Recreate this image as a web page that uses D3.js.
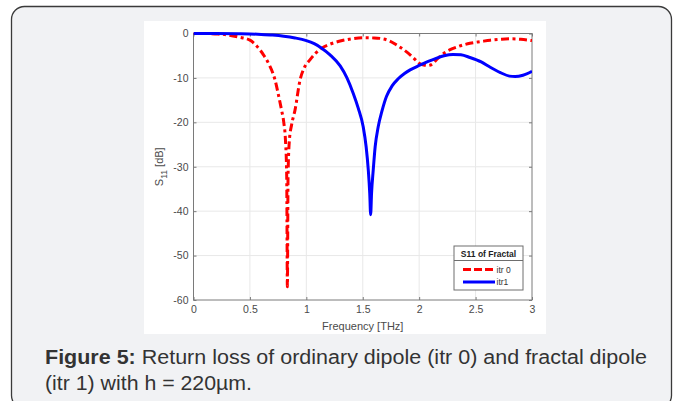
<!DOCTYPE html>
<html>
<head>
<meta charset="utf-8">
<script src="https://cdn.jsdelivr.net/npm/d3@7"></script>
<style>
  html, body { margin: 0; padding: 0; background: #fff; }
  svg { display: block; font-family: "Liberation Sans", Arial, sans-serif; }
</style>
</head>
<body>
<div id="chart"></div>
<script>
/** Data (frequency in THz, S11 in dB) */
const freqItr0 = [0, 0.1, 0.2, 0.3, 0.4, 0.5, 0.56, 0.62, 0.67, 0.723, 0.75, 0.78, 0.80, 0.815, 0.826, 0.832, 0.838, 0.85, 0.87, 0.90, 0.944, 0.98, 1.03, 1.08, 1.136, 1.21, 1.3, 1.4, 1.5, 1.6, 1.68, 1.74, 1.8, 1.86, 1.92, 1.97, 2.0, 2.04, 2.08, 2.12, 2.15, 2.2, 2.27, 2.35, 2.45, 2.55, 2.63, 2.72, 2.8, 2.9, 3.0];
const s11Itr0 = [0, 0, -0.1, -0.3, -0.8, -1.5, -2.8, -4.8, -7.0, -10.5, -13.5, -17.2, -20, -24, -32, -57, -32, -24, -20.5, -17.2, -10.5, -7.8, -6.0, -4.5, -3.3, -2.4, -1.7, -1.2, -0.95, -1.0, -1.2, -1.7, -2.6, -3.6, -4.8, -6.0, -6.7, -7.1, -7.2, -6.8, -6.0, -4.8, -3.7, -2.9, -2.2, -1.8, -1.5, -1.3, -1.2, -1.3, -1.6];

const freqItr1 = [0, 0.2, 0.4, 0.5, 0.6, 0.7, 0.8, 0.9, 1.0, 1.07, 1.136, 1.21, 1.3, 1.36, 1.416, 1.46, 1.504, 1.53, 1.549, 1.562, 1.57, 1.578, 1.593, 1.61, 1.637, 1.67, 1.71, 1.76, 1.814, 1.87, 1.92, 2.0, 2.08, 2.15, 2.22, 2.3, 2.37, 2.45, 2.55, 2.63, 2.72, 2.8, 2.85, 2.92, 3.0];
const s11Itr1 = [0, 0, -0.05, -0.1, -0.2, -0.35, -0.6, -1.0, -1.6, -2.3, -3.3, -4.8, -7.3, -10, -13.5, -16.8, -21, -25.5, -30.7, -36, -40.8, -36, -30.7, -25.5, -21, -17.5, -14.2, -11.8, -10.2, -9.0, -8.2, -7.2, -6.3, -5.6, -5.0, -4.7, -4.8, -5.4, -6.4, -7.6, -8.8, -9.6, -9.7, -9.4, -8.5];

const xTicks = [0, 0.5, 1, 1.5, 2, 2.5, 3];
const yTicks = [0, -10, -20, -30, -40, -50, -60];
const seriesNames = ["itr 0", "itr1"];
const seriesColors = ["#ff0000", "#0000ff"];

const W = 683, H = 401;

const svg = d3.select("#chart")
  .append("svg")
  .attr("width", W)
  .attr("height", H)
;

/** Card background with rounded border */
svg.append("rect")
  .attr("x", 11.5)
  .attr("y", 6.5)
  .attr("width", 660)
  .attr("height", 402)
  .attr("rx", 13)
  .attr("fill", "#f1f2f4")
  .attr("stroke", "#3a3a3a")
  .attr("stroke-width", 1.3)
;

// white figure panel
svg.append("rect")
  .attr("x", 144)
  .attr("y", 21)
  .attr("width", 402)
  .attr("height", 313)
  .attr("fill", "#fff")
;

/** Scales */
const xScale = d3.scaleLinear().domain([0, 3]).range([193.5, 532]);
const yScale = d3.scaleLinear().domain([-60, 0]).range([300, 33.5]);

const plot = svg.append("g").attr("id", "plot");

// grid
plot.append("g")
  .attr("stroke", "#e8e8e8")
  .attr("stroke-width", 1)
  .each(function() {
    d3.select(this).selectAll("line.gx")
      .data(xTicks.slice(1, -1))
      .enter().append("line")
      .attr("x1", d => xScale(d)).attr("x2", d => xScale(d))
      .attr("y1", yScale(0)).attr("y2", yScale(-60));
    d3.select(this).selectAll("line.gy")
      .data(yTicks.slice(1, -1))
      .enter().append("line")
      .attr("y1", d => yScale(d)).attr("y2", d => yScale(d))
      .attr("x1", xScale(0)).attr("x2", xScale(3));
  })
;

/** Axes, ticks pointing inward on all four sides */
const axisColor = "#7a7a7a";
const plainNum = d => String(d);
const styleAxis = g => {
  g.select(".domain").remove();
  g.selectAll(".tick line").attr("stroke", axisColor);
  g.selectAll(".tick text")
    .attr("fill", "#4a4a4a")
    .style("font-size", "10.5px")
    .style("font-family", "'Liberation Sans', Arial, sans-serif");
};

plot.append("g")
  .attr("transform", "translate(0," + yScale(-60) + ")")
  .call(d3.axisBottom(xScale).tickValues(xTicks).tickFormat(plainNum).tickSize(-3).tickPadding(6))
  .call(styleAxis)
;
plot.append("g")
  .attr("transform", "translate(" + xScale(0) + ",0)")
  .call(d3.axisLeft(yScale).tickValues(yTicks).tickFormat(plainNum).tickSize(-3).tickPadding(5))
  .call(styleAxis)
;
plot.append("g")
  .attr("transform", "translate(0," + yScale(0) + ")")
  .call(d3.axisTop(xScale).tickValues(xTicks).tickFormat("").tickSize(-3))
  .call(styleAxis)
;
plot.append("g")
  .attr("transform", "translate(" + xScale(3) + ",0)")
  .call(d3.axisRight(yScale).tickValues(yTicks).tickFormat("").tickSize(-3))
  .call(styleAxis)
;

// axes box
plot.append("rect")
  .attr("x", xScale(0))
  .attr("y", yScale(0))
  .attr("width", xScale(3) - xScale(0))
  .attr("height", yScale(-60) - yScale(0))
  .attr("fill", "none")
  .attr("stroke", axisColor)
  .attr("stroke-width", 1)
;

/** Curves */
svg.append("clipPath")
  .attr("id", "clip")
  .append("rect")
  .attr("x", xScale(0))
  .attr("y", yScale(0) - 2)
  .attr("width", xScale(3) - xScale(0))
  .attr("height", yScale(-60) - yScale(0) + 2)
;

const line = d3.line()
  .x(d => xScale(d[0]))
  .y(d => yScale(d[1]))
  .curve(d3.curveMonotoneX)
;

const series = [
  { name: seriesNames[0], color: seriesColors[0], dash: "8,3.5,3,3.5", pts: d3.zip(freqItr0, s11Itr0) },
  { name: seriesNames[1], color: seriesColors[1], dash: null, pts: d3.zip(freqItr1, s11Itr1) }
];

plot.append("g")
  .attr("clip-path", "url(#clip)")
  .selectAll("path")
  .data(series)
  .enter()
  .append("path")
  .attr("d", d => line(d.pts))
  .attr("fill", "none")
  .attr("stroke", d => d.color)
  .attr("stroke-width", 3)
  .attr("stroke-linejoin", "round")
  .attr("stroke-dasharray", d => d.dash)
;

/** Axis labels */
svg.append("text")
  .attr("x", (xScale(0) + xScale(3)) / 2)
  .attr("y", 330)
  .attr("text-anchor", "middle")
  .attr("fill", "#4a4a4a")
  .style("font-size", "11px")
  .text("Frequency [THz]")
;

svg.append("text")
  .attr("transform", "translate(163," + ((yScale(0) + yScale(-60)) / 2) + ") rotate(-90)")
  .attr("text-anchor", "middle")
  .attr("fill", "#4a4a4a")
  .style("font-size", "11px")
  .each(function() {
    const t = d3.select(this);
    t.append("tspan").text("S");
    t.append("tspan").attr("dy", 3.5).style("font-size", "8.5px").text("11");
    t.append("tspan").attr("dy", -3.5).text(" [dB]");
  })
;

/** Legend */
const legend = svg.append("g").attr("id", "legend").attr("transform", "translate(454,246)");

legend.append("rect")
  .attr("width", 69)
  .attr("height", 44)
  .attr("fill", "#fff")
  .attr("stroke", "#6e6e6e")
  .attr("stroke-width", 1)
;
legend.append("text")
  .attr("x", 34.5)
  .attr("y", 11)
  .attr("text-anchor", "middle")
  .attr("fill", "#222")
  .style("font-size", "8.5px")
  .style("font-weight", "bold")
  .text("S11 of Fractal")
;
legend.append("line")
  .attr("x1", 0).attr("x2", 69)
  .attr("y1", 14.5).attr("y2", 14.5)
  .attr("stroke", "#6e6e6e")
;

const entries = legend.selectAll("g.entry")
  .data(series)
  .enter()
  .append("g")
  .attr("class", "entry")
  .attr("transform", (d, i) => "translate(0," + (23.5 + i * 12.5) + ")")
;
entries.append("line")
  .attr("x1", 9).attr("x2", 41)
  .attr("stroke", d => d.color)
  .attr("stroke-width", 3)
  .attr("stroke-dasharray", d => d.dash ? "8,3" : null)
;
entries.append("text")
  .attr("x", 42.5)
  .attr("y", 3)
  .attr("fill", "#333")
  .style("font-size", "8.5px")
  .text(d => d.name)
;

/** Caption */
const caption = svg.append("g")
  .attr("fill", "#333")
  .style("font-size", "20px")
;
caption.append("text")
  .attr("x", 45)
  .attr("y", 364)
  .attr("textLength", 602)
  .attr("lengthAdjust", "spacingAndGlyphs")
  .each(function() {
    d3.select(this).append("tspan").style("font-weight", "bold").text("Figure 5:");
    d3.select(this).append("tspan").text(" Return loss of ordinary dipole (itr 0) and fractal dipole");
  })
;
caption.append("text")
  .attr("x", 45)
  .attr("y", 390)
  .attr("textLength", 207)
  .attr("lengthAdjust", "spacingAndGlyphs")
  .text("(itr 1) with h = 220\u00b5m.")
;
</script>
</body>
</html>
